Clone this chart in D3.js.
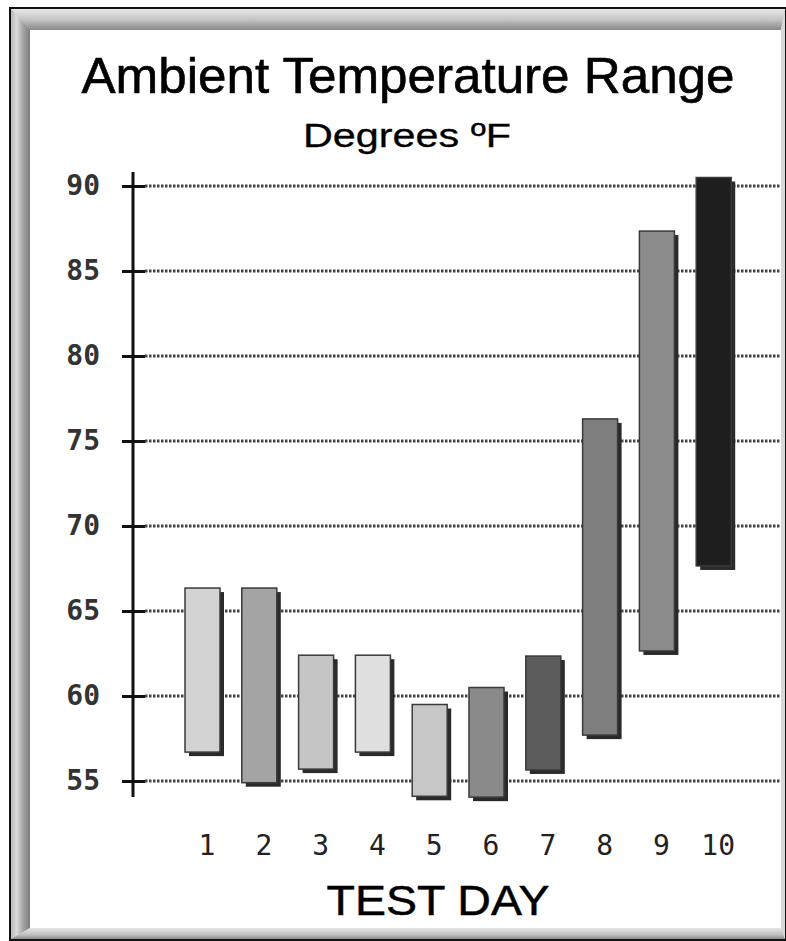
<!DOCTYPE html>
<html>
<head>
<meta charset="utf-8">
<script src="https://cdn.jsdelivr.net/npm/d3@7"></script>
<style>
	body { margin: 0; background: #fff; }
</style>
</head>
<body>
<div id="chart"></div>
<script>
// Data
var days = [1, 2, 3, 4, 5, 6, 7, 8, 9, 10],
	lowTemps = [56.7, 54.9, 55.7, 56.7, 54.1, 54.05, 55.65, 57.7, 62.65, 67.65],
	highTemps = [66.35, 66.35, 62.4, 62.4, 59.5, 60.5, 62.35, 76.3, 87.35, 90.5],
	barColors = ["#d3d3d3", "#a4a4a4", "#c5c5c5", "#dfdfdf", "#c7c7c7",
		"#8a8a8a", "#5c5c5c", "#7e7e7e", "#8c8c8c", "#1e1e1e"],
	yTicks = [55, 60, 65, 70, 75, 80, 85, 90];

var width = 786,
	height = 941,
	barWidth = 35,
	shadowOff = 4;

var svg = d3.select("#chart").append("svg")
	.attr("width", width)
	.attr("height", height);

var defs = svg.append("defs");

function vGrad(id, stops, horizontal) {
	var g = defs.append("linearGradient")
		.attr("id", id)
		.attr("x1", 0).attr("y1", 0)
		.attr("x2", horizontal ? 1 : 0).attr("y2", horizontal ? 0 : 1);
	stops.forEach(function(s) {
		g.append("stop").attr("offset", s[0]).attr("stop-color", s[1]);
	});
}
vGrad("topBevel", [[0, "#e8e8e8"], [0.5, "#c4c4c4"], [1, "#888"]]);
vGrad("bottomBevel", [[0, "#e4e4e4"], [0.6, "#c0c0c0"], [1, "#8c8c8c"]]);
vGrad("leftBevel", [[0, "#b8b8b8"], [0.3, "#dcdcdc"], [0.6, "#a8a8a8"], [1, "#7c7c7c"]], true);

// frame
svg.append("rect")
	.attr("x", 10).attr("y", 8)
	.attr("width", 776).attr("height", 932)
	.attr("fill", "#ccc")
	.attr("stroke", "#111")
	.attr("stroke-width", 2);

svg.append("path")
	.attr("d", "M11,9 L785,9 L781,30 L30,30 Z")
	.attr("fill", "url(#topBevel)");
svg.append("path")
	.attr("d", "M11,9 L30,30 L30,928 L11,939 Z")
	.attr("fill", "url(#leftBevel)");
svg.append("path")
	.attr("d", "M11,939 L30,928 L781,928 L785,939 Z")
	.attr("fill", "url(#bottomBevel)");
svg.append("path")
	.attr("d", "M781,30 L785,9 L785,939 L781,928 Z")
	.attr("fill", "#d8d8d8");
svg.append("rect")
	.attr("x", 30).attr("y", 30)
	.attr("width", 751).attr("height", 898)
	.attr("fill", "#fff");

// Scales
var y = d3.scaleLinear()
	.domain([55, 90])
	.range([781, 186]);

var x = d3.scalePoint()
	.domain(days)
	.range([202.5, 713.7]);

// Titles
svg.append("text")
	.attr("x", 408).attr("y", 93)
	.attr("text-anchor", "middle")
	.attr("font-family", "Liberation Sans, Arial, sans-serif")
	.attr("font-size", 50)
	.attr("stroke", "#000")
	.attr("stroke-width", 0.6)
	.attr("textLength", 653)
	.attr("lengthAdjust", "spacingAndGlyphs")
	.text("Ambient Temperature Range");

svg.append("text")
	.attr("x", 407).attr("y", 147)
	.attr("text-anchor", "middle")
	.attr("font-family", "Liberation Sans, Arial, sans-serif")
	.attr("font-size", 33)
	.attr("stroke", "#000")
	.attr("stroke-width", 0.3)
	.attr("textLength", 208)
	.attr("lengthAdjust", "spacingAndGlyphs")
	.text("Degrees \u00BAF");

// gridlines (dotted)
svg.append("g")
	.attr("class", "grid")
	.selectAll("line")
	.data(yTicks)
	.enter().append("line")
	.attr("x1", 145).attr("x2", 780)
	.attr("y1", function(d) { return y(d); })
	.attr("y2", function(d) { return y(d); })
	.attr("stroke", "#444")
	.attr("stroke-width", 3)
	.attr("stroke-dasharray", "2.5,1.5");

// y axis
var yAxis = d3.axisLeft(y)
	.tickValues(yTicks)
	.tickSizeInner(11)
	.tickSizeOuter(0)
	.tickPadding(22);

var yAxisG = svg.append("g")
	.attr("transform", "translate(133,0)")
	.call(yAxis);

yAxisG.select(".domain").remove();
yAxisG.selectAll(".tick line")
	.attr("x2", 12)
	.attr("x1", -11)
	.attr("stroke", "#111")
	.attr("stroke-width", 3);
yAxisG.selectAll(".tick text")
	.attr("font-family", "DejaVu Sans Mono, monospace")
	.attr("font-weight", "bold")
	.attr("font-size", 28)
	.attr("fill", "#333");

svg.append("line")
	.attr("x1", 133).attr("x2", 133)
	.attr("y1", 172).attr("y2", 797)
	.attr("stroke", "#111")
	.attr("stroke-width", 3);

// bars with drop shadow
var bars = svg.append("g")
	.attr("class", "bars")
	.selectAll("g")
	.data(days)
	.enter().append("g");

bars.append("rect")
	.attr("x", function(d) { return x(d) - barWidth / 2 + shadowOff; })
	.attr("y", function(d, i) { return y(highTemps[i]) + shadowOff; })
	.attr("width", barWidth)
	.attr("height", function(d, i) { return y(lowTemps[i]) - y(highTemps[i]); })
	.attr("fill", "#2a2a2a");

bars.append("rect")
	.attr("x", function(d) { return x(d) - barWidth / 2; })
	.attr("y", function(d, i) { return y(highTemps[i]); })
	.attr("width", barWidth)
	.attr("height", function(d, i) { return y(lowTemps[i]) - y(highTemps[i]); })
	.attr("fill", function(d, i) { return barColors[i]; })
	.attr("stroke", "#3a3a3a")
	.attr("stroke-width", 1.5);

// x labels
var xAxis = d3.axisBottom(x)
	.tickSize(0)
	.tickPadding(0);

var xAxisG = svg.append("g")
	.attr("transform", "translate(4,835)")
	.call(xAxis);

xAxisG.select(".domain").remove();
xAxisG.selectAll(".tick text")
	.attr("dy", "0.71em")
	.attr("font-family", "DejaVu Sans Mono, monospace")
	.attr("font-size", 28)
	.attr("fill", "#222");

svg.append("text")
	.attr("x", 438).attr("y", 915)
	.attr("text-anchor", "middle")
	.attr("font-family", "Liberation Sans, Arial, sans-serif")
	.attr("font-size", 42)
	.attr("stroke", "#000")
	.attr("stroke-width", 0.5)
	.attr("textLength", 223)
	.attr("lengthAdjust", "spacingAndGlyphs")
	.text("TEST DAY");
</script>
</body>
</html>
